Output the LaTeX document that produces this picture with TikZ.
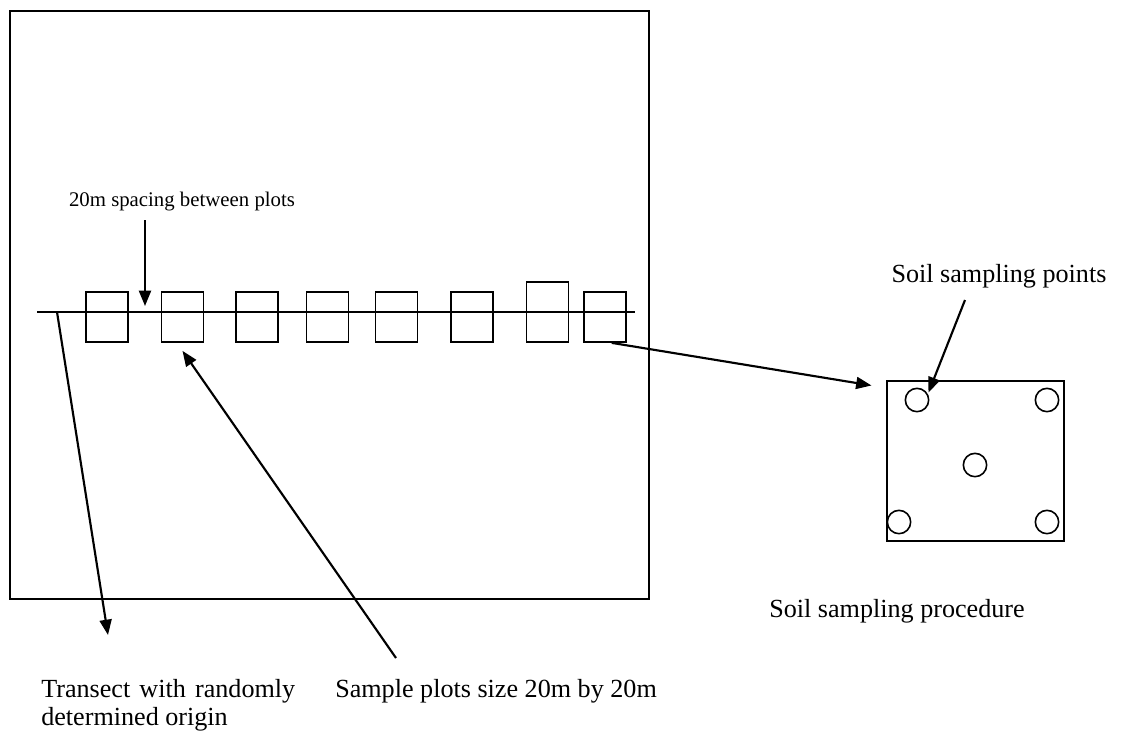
\documentclass[tikz,border=0pt]{standalone}
\usepackage{fontspec}
\setmainfont{Liberation Serif}
\usetikzlibrary{arrows.meta}

\begin{document}
\begin{tikzpicture}[x=0.75pt,y=-0.75pt,
  frame/.style={draw,line width=1.4pt},
  plot/.style={draw,line width=1.3pt,inner sep=0pt,minimum width=31.5pt,minimum height=37.5pt},
  tallplot/.style={plot,minimum height=45pt},
  point/.style={draw,circle,line width=1.2pt,inner sep=0pt,minimum size=17.5pt},
  lab/.style={inner sep=0pt,font=\fontsize{15.6}{20.5}\selectfont},
  biglab/.style={inner sep=0pt,font=\fontsize{19.6}{24}\selectfont},
  pointer/.style={line width=1.6pt,-{Triangle[length=11.5pt,width=9pt]}}]

\useasboundingbox (0,0) rectangle (1121,736);

% study area
\draw[frame] (10,11) rectangle (649,599);

% sample plots along the transect
\node[plot] (p1) at (107,317) {};
\node[plot] (p2) at (182.5,317) {};
\node[plot] (p3) at (257,317) {};
\node[plot] (p4) at (327.5,317) {};
\node[plot] (p5) at (396.5,317) {};
\node[plot] (p6) at (472,317) {};
\node[tallplot] (p7) at (547.5,312) {};
\node[plot] (p8) at (605,317) {};

% transect line
\coordinate (tstart) at (37,312);
\coordinate (tend) at (635,312);
\draw[line width=1.1pt] (tstart) -- (tend);

% soil sampling plot
\node[draw,line width=1.3pt,inner sep=0pt,minimum width=132.75pt,minimum height=120pt] (soil) at (975.5,461) {};
\node[point] (c1) at (917,400) {};
\node[point] (c2) at (1047,400) {};
\node[point] (c3) at (975,465) {};
\node[point] (c4) at (899,522) {};
\node[point] (c5) at (1047,522) {};

% labels
\node[lab] (spacing) at (182,202) {20m spacing between plots};
\node[biglab] (soilpts) at (999,276) {Soil sampling points};
\node[biglab,anchor=base] (proc) at (897,617) {Soil sampling procedure};
\node[biglab,anchor=base west] (translab) at (41,697)
  {\makebox[190.5pt][s]{Transect with randomly}};
\node[biglab,anchor=base west] (translabb) at (41,725) {determined origin};
\node[biglab,anchor=base west] (samplab) at (335,697) {Sample plots size 20m by 20m};

% pointers
\coordinate (gapfrom) at (145,220);
\coordinate (gap) at (145,306);
\coordinate (tfrom) at (57,312);
\coordinate (ttip) at (108,635);
\coordinate (sfrom) at (396,658);
\coordinate (pfrom) at (965,300);
\draw[pointer] (gapfrom) -- (gap);
\draw[pointer] (tfrom) -- (ttip);
\draw[pointer] (sfrom) -- ([yshift=-6pt]p2.south);
\draw[pointer] ([xshift=5pt]p8.south) -- ([xshift=-11pt,yshift=-4pt]soil.north west);
\draw[pointer] (pfrom) -- ([xshift=2pt,yshift=-1pt]c1.north east);
\end{tikzpicture}
\end{document}
